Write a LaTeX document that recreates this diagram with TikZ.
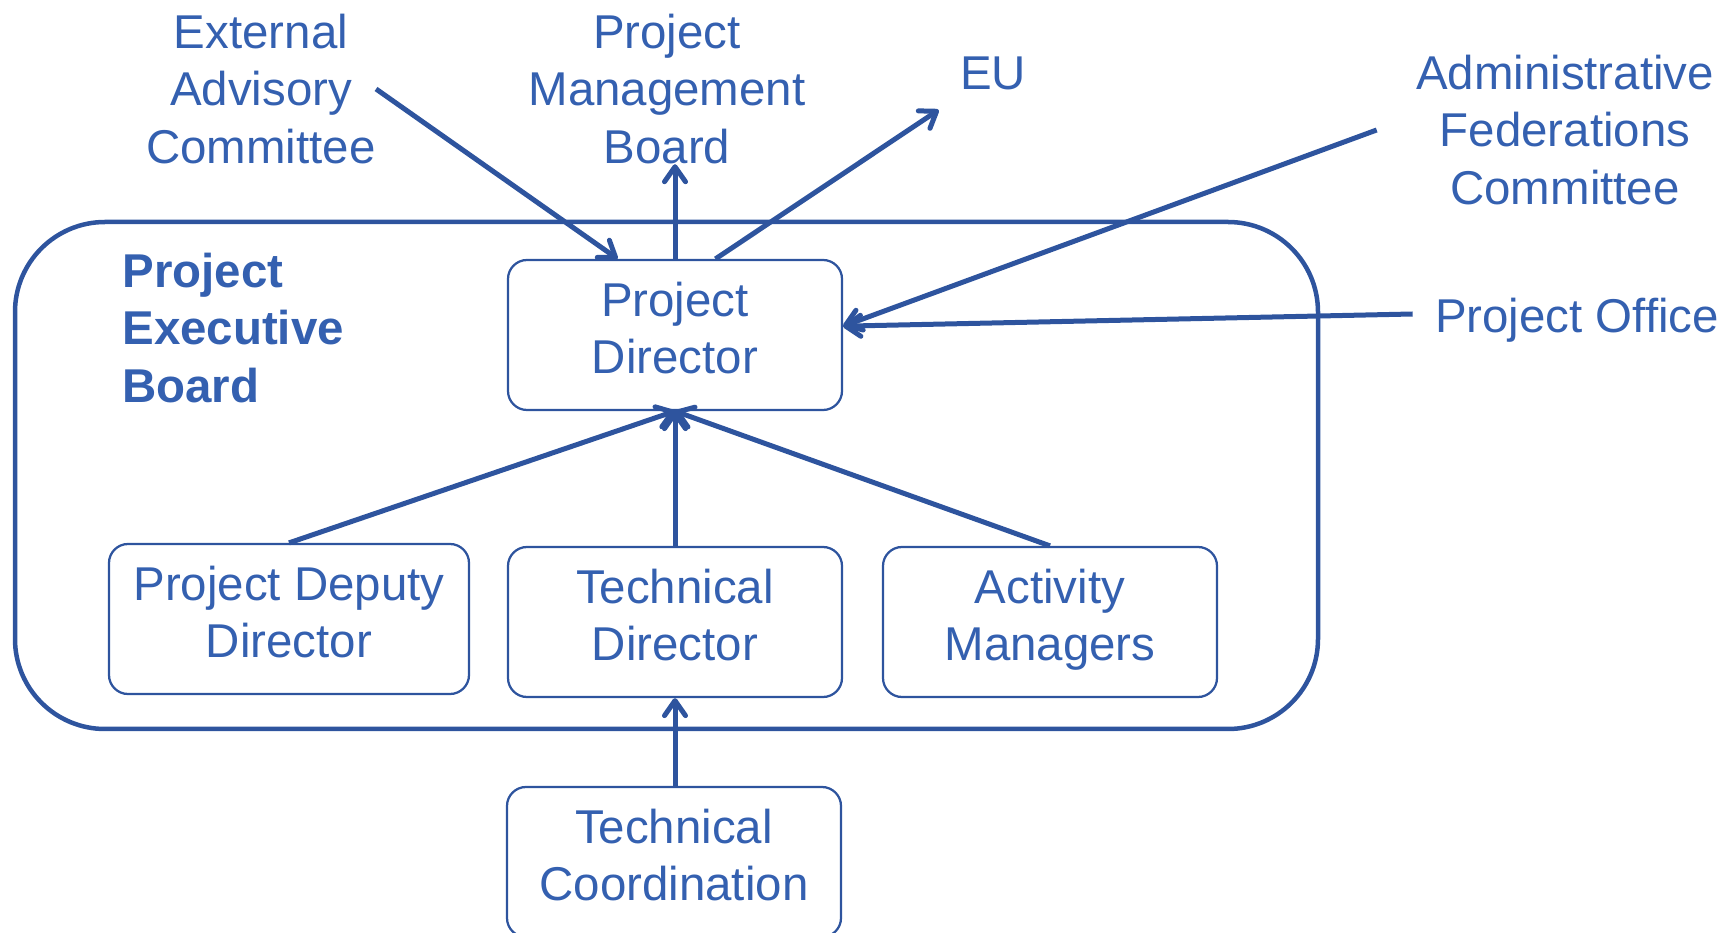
\documentclass[tikz,border=0pt]{standalone}
\usepackage{fontspec}
\setmainfont{Liberation Sans}
\usetikzlibrary{arrows.meta}
\definecolor{lineblue}{RGB}{46,84,158}
\definecolor{textblue}{RGB}{52,96,176}
\tikzset{
  unitbox/.style={draw=lineblue, line width=0.045cm, rounded corners=0.38cm, minimum width=6.68cm, minimum height=3.0cm, align=center, text=textblue, execute at end node={\rule[-0.28cm]{0pt}{0pt}}},
  plaintext/.style={align=center, text=textblue, inner sep=0pt},
  linkarrow/.style={draw=lineblue, line width=0.1cm, -{Straight Barb[length=0.3cm,width=0.42cm,round]}},
  execframe/.style={draw=lineblue, line width=0.09cm, rounded corners=1.8cm}
}

\begin{document}
\begin{tikzpicture}[font=\fontsize{27}{32.7}\selectfont]
       \useasboundingbox (0,0) rectangle (34.66,-18.66);
       \clip (0,0) rectangle (34.66,-18.66);

       \draw[execframe] (0.3,-4.44) rectangle (26.36,-14.58);
       \node[plaintext, anchor=west, align=left, font=\fontsize{27}{32.7}\selectfont\bfseries] (peb) at (2.44,-6.56) {Project\\Executive\\Board};

       \node[plaintext] (ext) at (5.22,-1.78) {External\\Advisory\\Committee};
       \node[plaintext] (pmb) at (13.34,-1.78) {Project\\Management\\Board};
       \node[plaintext] (eu) at (19.86,-1.46) {EU};
       \node[plaintext] (afc) at (31.3,-2.6) {Administrative\\Federations\\Committee};
       \node[plaintext] (office) at (31.54,-6.4) {Project Office};

       \node[unitbox] (dir) at (13.5,-6.7) {Project\\Director};
       \node[unitbox, minimum width=7.2cm] (dep) at (5.78,-12.38) {Project Deputy\\Director};
       \node[unitbox] (td) at (13.5,-12.44) {Technical\\Director};
       \node[unitbox] (am) at (21.0,-12.44) {Activity\\Managers};
       \node[unitbox] (tc) at (13.48,-17.24) {Technical\\Coordination};

       \draw[linkarrow] (ext.east) -- (dir.127);
       \draw[linkarrow] (dir.north) -- (dir.north |- pmb.south);
       \draw[linkarrow] (dir.62) -- ([shift={(-0.42,-0.4)}]eu.south west);
       \draw[linkarrow] ([xshift=-0.78cm]afc.west) -- (dir.3);
       \draw[linkarrow] ([xshift=-0.44cm,yshift=0.12cm]office.west) -- (dir.3);

       \draw[linkarrow] (dep.north) -- (dir.south);
       \draw[linkarrow] (td.north) -- (dir.south);
       \draw[linkarrow] (am.north) -- (dir.south);
       \draw[linkarrow] (tc.north -| td.south) -- (td.south);
\end{tikzpicture}
\end{document}
